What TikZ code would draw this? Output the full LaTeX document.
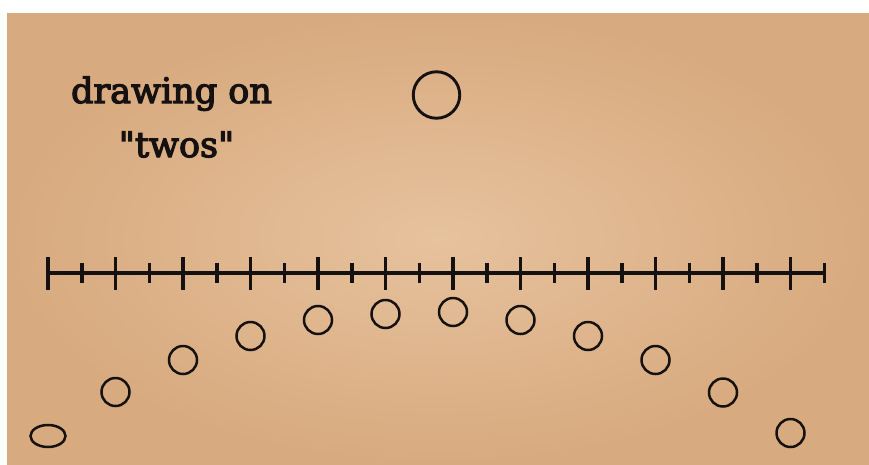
\documentclass[tikz,border=0pt]{standalone}
\usepackage{fontspec}
\setmainfont{DejaVu Serif}
\newfontfamily\capfont[FakeBold=3.5]{DejaVu Serif}
\usetikzlibrary{shapes.geometric}
\definecolor{ink}{HTML}{141110}
\definecolor{paperlight}{HTML}{E6C29D}
\definecolor{paperdark}{HTML}{D8AA7F}

\begin{document}
\begin{tikzpicture}[
  x=1pt, y=-1pt,
  ball/.style={circle, draw=ink, line width=2.5pt, minimum size=28pt, inner sep=0pt},
  flatball/.style={ellipse, draw=ink, line width=2.5pt, minimum width=35pt, minimum height=22pt, inner sep=0pt},
  bigball/.style={circle, draw=ink, line width=2.9pt, minimum size=46.5pt, inner sep=0pt},
  majortick/.style={draw=ink, line width=3.8pt},
  minortick/.style={draw=ink, line width=3.5pt},
  timeline/.style={draw=ink, line width=4pt},
  caption/.style={anchor=base, text=ink, font=\capfont\fontsize{35}{42}\selectfont}
]
\useasboundingbox (0,0) rectangle (869,464);
\fill[white] (0,0) rectangle (869,464);
\shade[inner color=paperlight, outer color=paperdark] (7,13) rectangle (869,464);

% title
\node[caption] (cap1) at (171.5,103) {drawing on};
\node[caption] (cap2) at (176.5,157) {\symbol{34}twos\symbol{34}};

% the ball held up top
\node[bigball] (held) at (436.5,95) {};

% frame line
\coordinate (axisL) at (48,273);
\coordinate (axisR) at (824.25,273);
\draw[timeline] (axisL) -- (axisR);
\foreach \i in {0,...,11} {\draw[majortick] (48+67.5*\i,257) -- (48+67.5*\i,290);}
\foreach \i in {0,...,11} {\draw[minortick] (81.75+67.5*\i,263) -- (81.75+67.5*\i,283);}

% one drawing every second frame
\node[flatball] (b0) at (48,436) {};
\foreach \n/\x/\y in {1/115.5/392, 2/183/360, 3/250.5/336, 4/318/320, 5/385.5/314,
                      6/453/312, 7/520.5/320, 8/588/336, 9/655.5/360, 10/723/392.5, 11/790.5/433} {
  \node[ball] (b\n) at (\x,\y) {};
}
\end{tikzpicture}
\end{document}
